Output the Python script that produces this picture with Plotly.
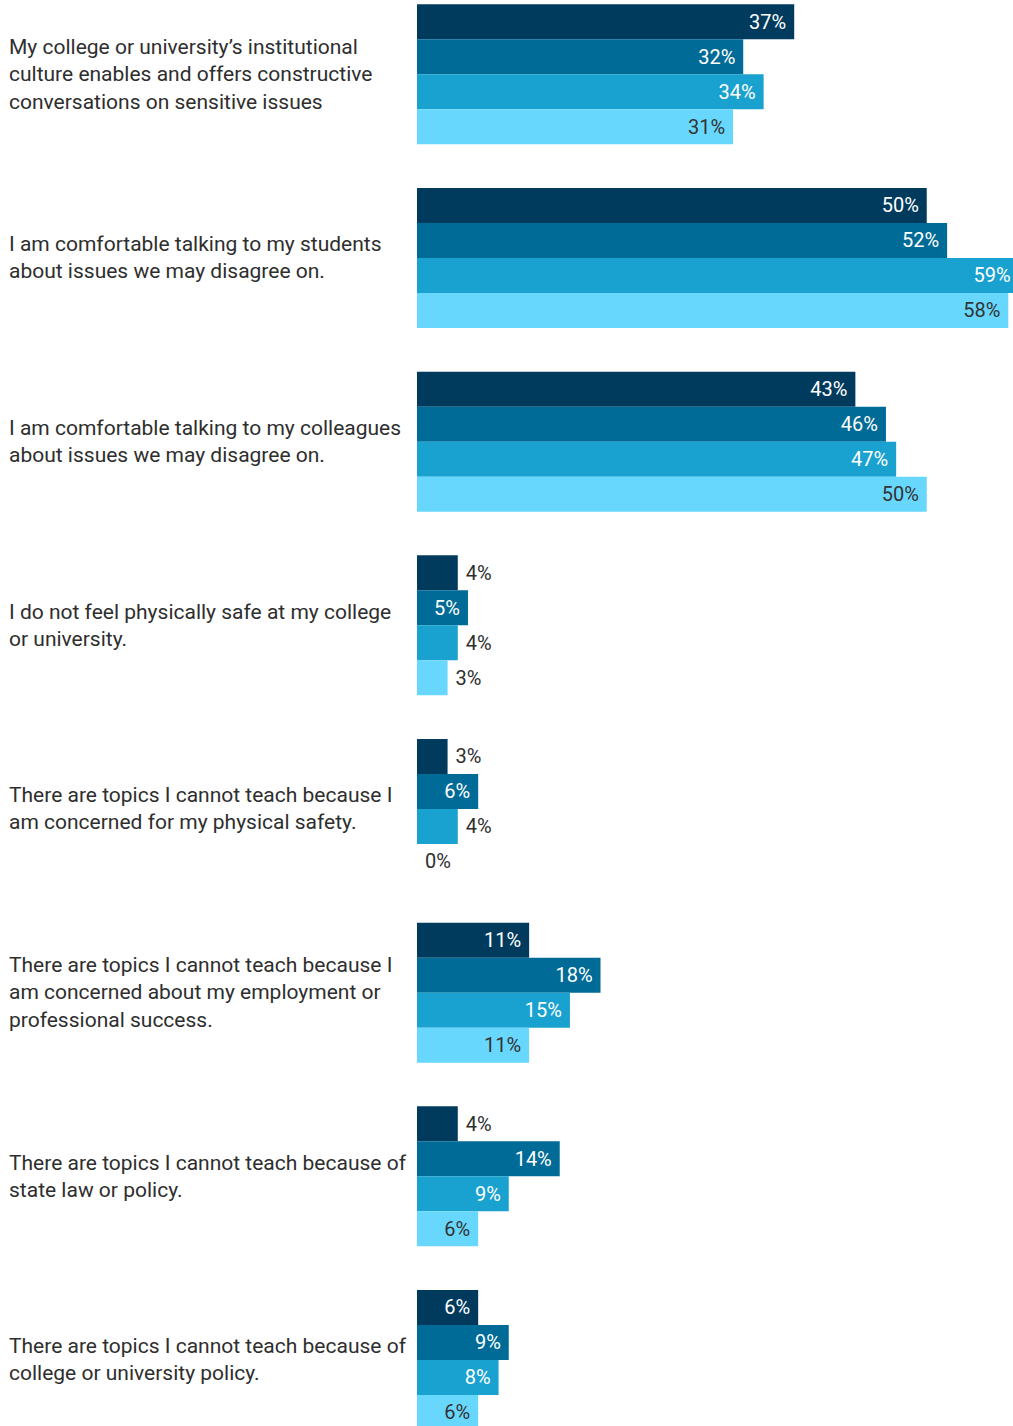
import plotly.graph_objects as go

# Survey statements (top to bottom) and the share agreeing in each of four waves
statements = [
    "My college or university’s institutional<br>culture enables and offers constructive<br>conversations on sensitive issues",
    "I am comfortable talking to my students<br>about issues we may disagree on.",
    "I am comfortable talking to my colleagues<br>about issues we may disagree on.",
    "I do not feel physically safe at my college<br>or university.",
    "There are topics I cannot teach because I<br>am concerned for my physical safety.",
    "There are topics I cannot teach because I<br>am concerned about my employment or<br>professional success.",
    "There are topics I cannot teach because of<br>state law or policy.",
    "There are topics I cannot teach because of<br>college or university policy.",
]

wave_names = ["Wave 1", "Wave 2", "Wave 3", "Wave 4"]
wave_1 = [37, 50, 43, 4, 3, 11, 4, 6]
wave_2 = [32, 52, 46, 5, 6, 18, 14, 9]
wave_3 = [34, 59, 47, 4, 4, 15, 9, 8]
wave_4 = [31, 58, 50, 3, 0, 11, 6, 6]

bar_colors = ["#003b5e", "#006b97", "#19a1cf", "#68d7fd"]
inside_text_colors = ["#ffffff", "#ffffff", "#ffffff", "#333333"]
dark_text = "#2e2e2e"
font_family = "Roboto, 'Open Sans', sans-serif"
label_size = 20
statement_size = 21

positions = list(range(len(statements)))
NBSP = "\u00a0"

fig = go.Figure()
for name, values, color, in_color in zip(
    wave_names, [wave_1, wave_2, wave_3, wave_4], bar_colors, inside_text_colors
):
    # small values don't fit a label inside the bar, so they sit just past its end
    placement = ["inside" if v >= 5 else "outside" for v in values]
    labels = [
        (f"{v}%{NBSP}" if p == "inside" else f"{NBSP}{v}%")
        for v, p in zip(values, placement)
    ]
    fig.add_trace(
        go.Bar(
            name=name,
            y=positions,
            x=values,
            orientation="h",
            marker=dict(color=color, line=dict(width=0)),
            text=labels,
            textposition=placement,
            insidetextanchor="end",
            textangle=0,
            constraintext="none",
            cliponaxis=True,
            insidetextfont=dict(family=font_family, size=label_size, color=in_color),
            outsidetextfont=dict(family=font_family, size=label_size, color=dark_text),
            hoverinfo="skip",
            showlegend=False,
        )
    )

# statement labels, left-aligned in the left margin
for pos, text in zip(positions, statements):
    fig.add_annotation(
        x=-(417 - 8) / 596.3,
        xref="paper",
        y=pos,
        yref="y",
        text=text,
        showarrow=False,
        xanchor="left",
        yanchor="middle",
        align="left",
        borderpad=0,
        font=dict(family=font_family, size=statement_size, color=dark_text),
    )

step_px = 183.67
first_center_px = 74.3
fig_height = 1426

fig.update_layout(
    width=1013,
    height=fig_height,
    margin=dict(l=417, r=0, t=0, b=0),
    paper_bgcolor="white",
    plot_bgcolor="white",
    barmode="group",
    bargap=1 - 140 / step_px,
    bargroupgap=0,
    uniformtext=dict(mode=False),
    font=dict(family=font_family, size=label_size, color=dark_text),
    xaxis=dict(
        range=[0, 596.3 / 10.2],
        visible=False,
        showgrid=False,
        zeroline=False,
        fixedrange=True,
    ),
    yaxis=dict(
        range=[
            (fig_height - first_center_px) / step_px,
            -first_center_px / step_px,
        ],
        visible=False,
        showgrid=False,
        zeroline=False,
        fixedrange=True,
    ),
)

fig.write_html("out.html", config={"displayModeBar": False})
